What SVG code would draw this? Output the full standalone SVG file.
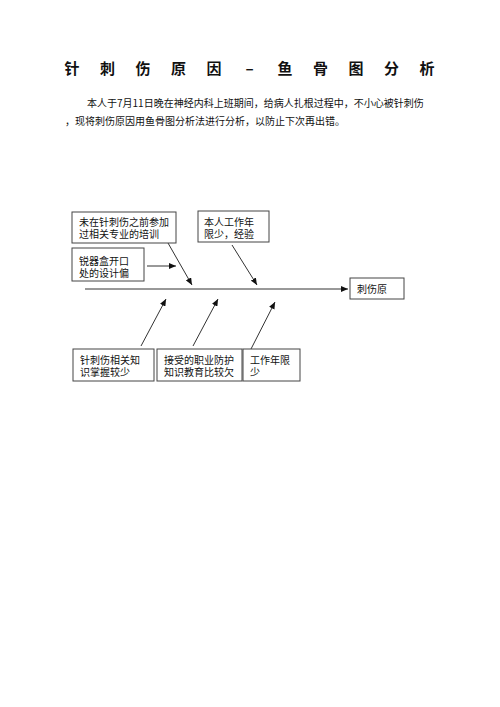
<svg xmlns="http://www.w3.org/2000/svg" width="500" height="707" viewBox="0 0 500 707">
<defs>
<marker id="ah" markerUnits="userSpaceOnUse" markerWidth="8" markerHeight="6" refX="7" refY="3" orient="auto">
<path d="M0,0 L7,3 L0,6 Z" fill="#111"/>
</marker>
<style>
.t{font-family:"Noto Sans CJK SC","Liberation Serif",sans-serif;fill:#111}
.title{font-size:15px;font-weight:bold}
.p{font-size:10px}
.n{font-size:10px}
.box{fill:#fff;stroke:#444;stroke-width:1}
.c{stroke:#333;stroke-width:1;fill:none;marker-end:url(#ah)}
</style>
</defs>
<rect width="500" height="707" fill="#fff"/>
<text class="t title" text-anchor="middle" x="72 107.5 143 178.5 214 249.5 285 320.5 356 391.5 427" y="74">针刺伤原因–鱼骨图分析</text>
<text class="t p" x="87" y="107">本人于7月11日晚在神经内科上班期间，给病人扎根过程中，不小心被针刺伤</text>
<text class="t p" x="65" y="125">，现将刺伤原因用鱼骨图分析法进行分析，以防止下次再出错。</text>
<g id="connectors">
<line class="c" x1="85" y1="289" x2="348" y2="289"/>
<line class="c" x1="147" y1="266" x2="176" y2="266"/>
<line class="c" x1="168" y1="243" x2="192" y2="285"/>
<line class="c" x1="232" y1="245" x2="257" y2="285"/>
<line class="c" x1="141" y1="346" x2="166" y2="299"/>
<line class="c" x1="193" y1="346" x2="218" y2="299"/>
<line class="c" x1="251" y1="349" x2="275" y2="302"/>
</g>
<g id="n1"><rect class="box" x="72" y="212" width="104" height="31"/>
<text class="t n" x="79" y="225.5">未在针刺伤之前参加</text><text class="t n" x="79" y="238">过相关专业的培训</text></g>
<g id="n2"><rect class="box" x="198" y="211" width="71" height="31"/>
<text class="t n" x="204" y="225.5">本人工作年</text><text class="t n" x="204" y="238">限少，经验</text></g>
<g id="n3"><rect class="box" x="72" y="248" width="72" height="33"/>
<text class="t n" x="79" y="264.5">锐器盒开口</text><text class="t n" x="79" y="277">处的设计偏</text></g>
<g id="effect"><rect class="box" x="350" y="278" width="54" height="21"/>
<text class="t n" x="357" y="292.5">刺伤原</text></g>
<g id="n4"><rect class="box" x="73" y="349" width="81" height="32"/>
<text class="t n" x="80" y="363.5">针刺伤相关知</text><text class="t n" x="80" y="376">识掌握较少</text></g>
<g id="n5"><rect class="box" x="157" y="349" width="85" height="32"/>
<text class="t n" x="164" y="363.5">接受的职业防护</text><text class="t n" x="164" y="376">知识教育比较欠</text></g>
<g id="n6"><rect class="box" x="243" y="349" width="57" height="32"/>
<text class="t n" x="250" y="363.5">工作年限</text><text class="t n" x="250" y="376">少</text></g>
</svg>
